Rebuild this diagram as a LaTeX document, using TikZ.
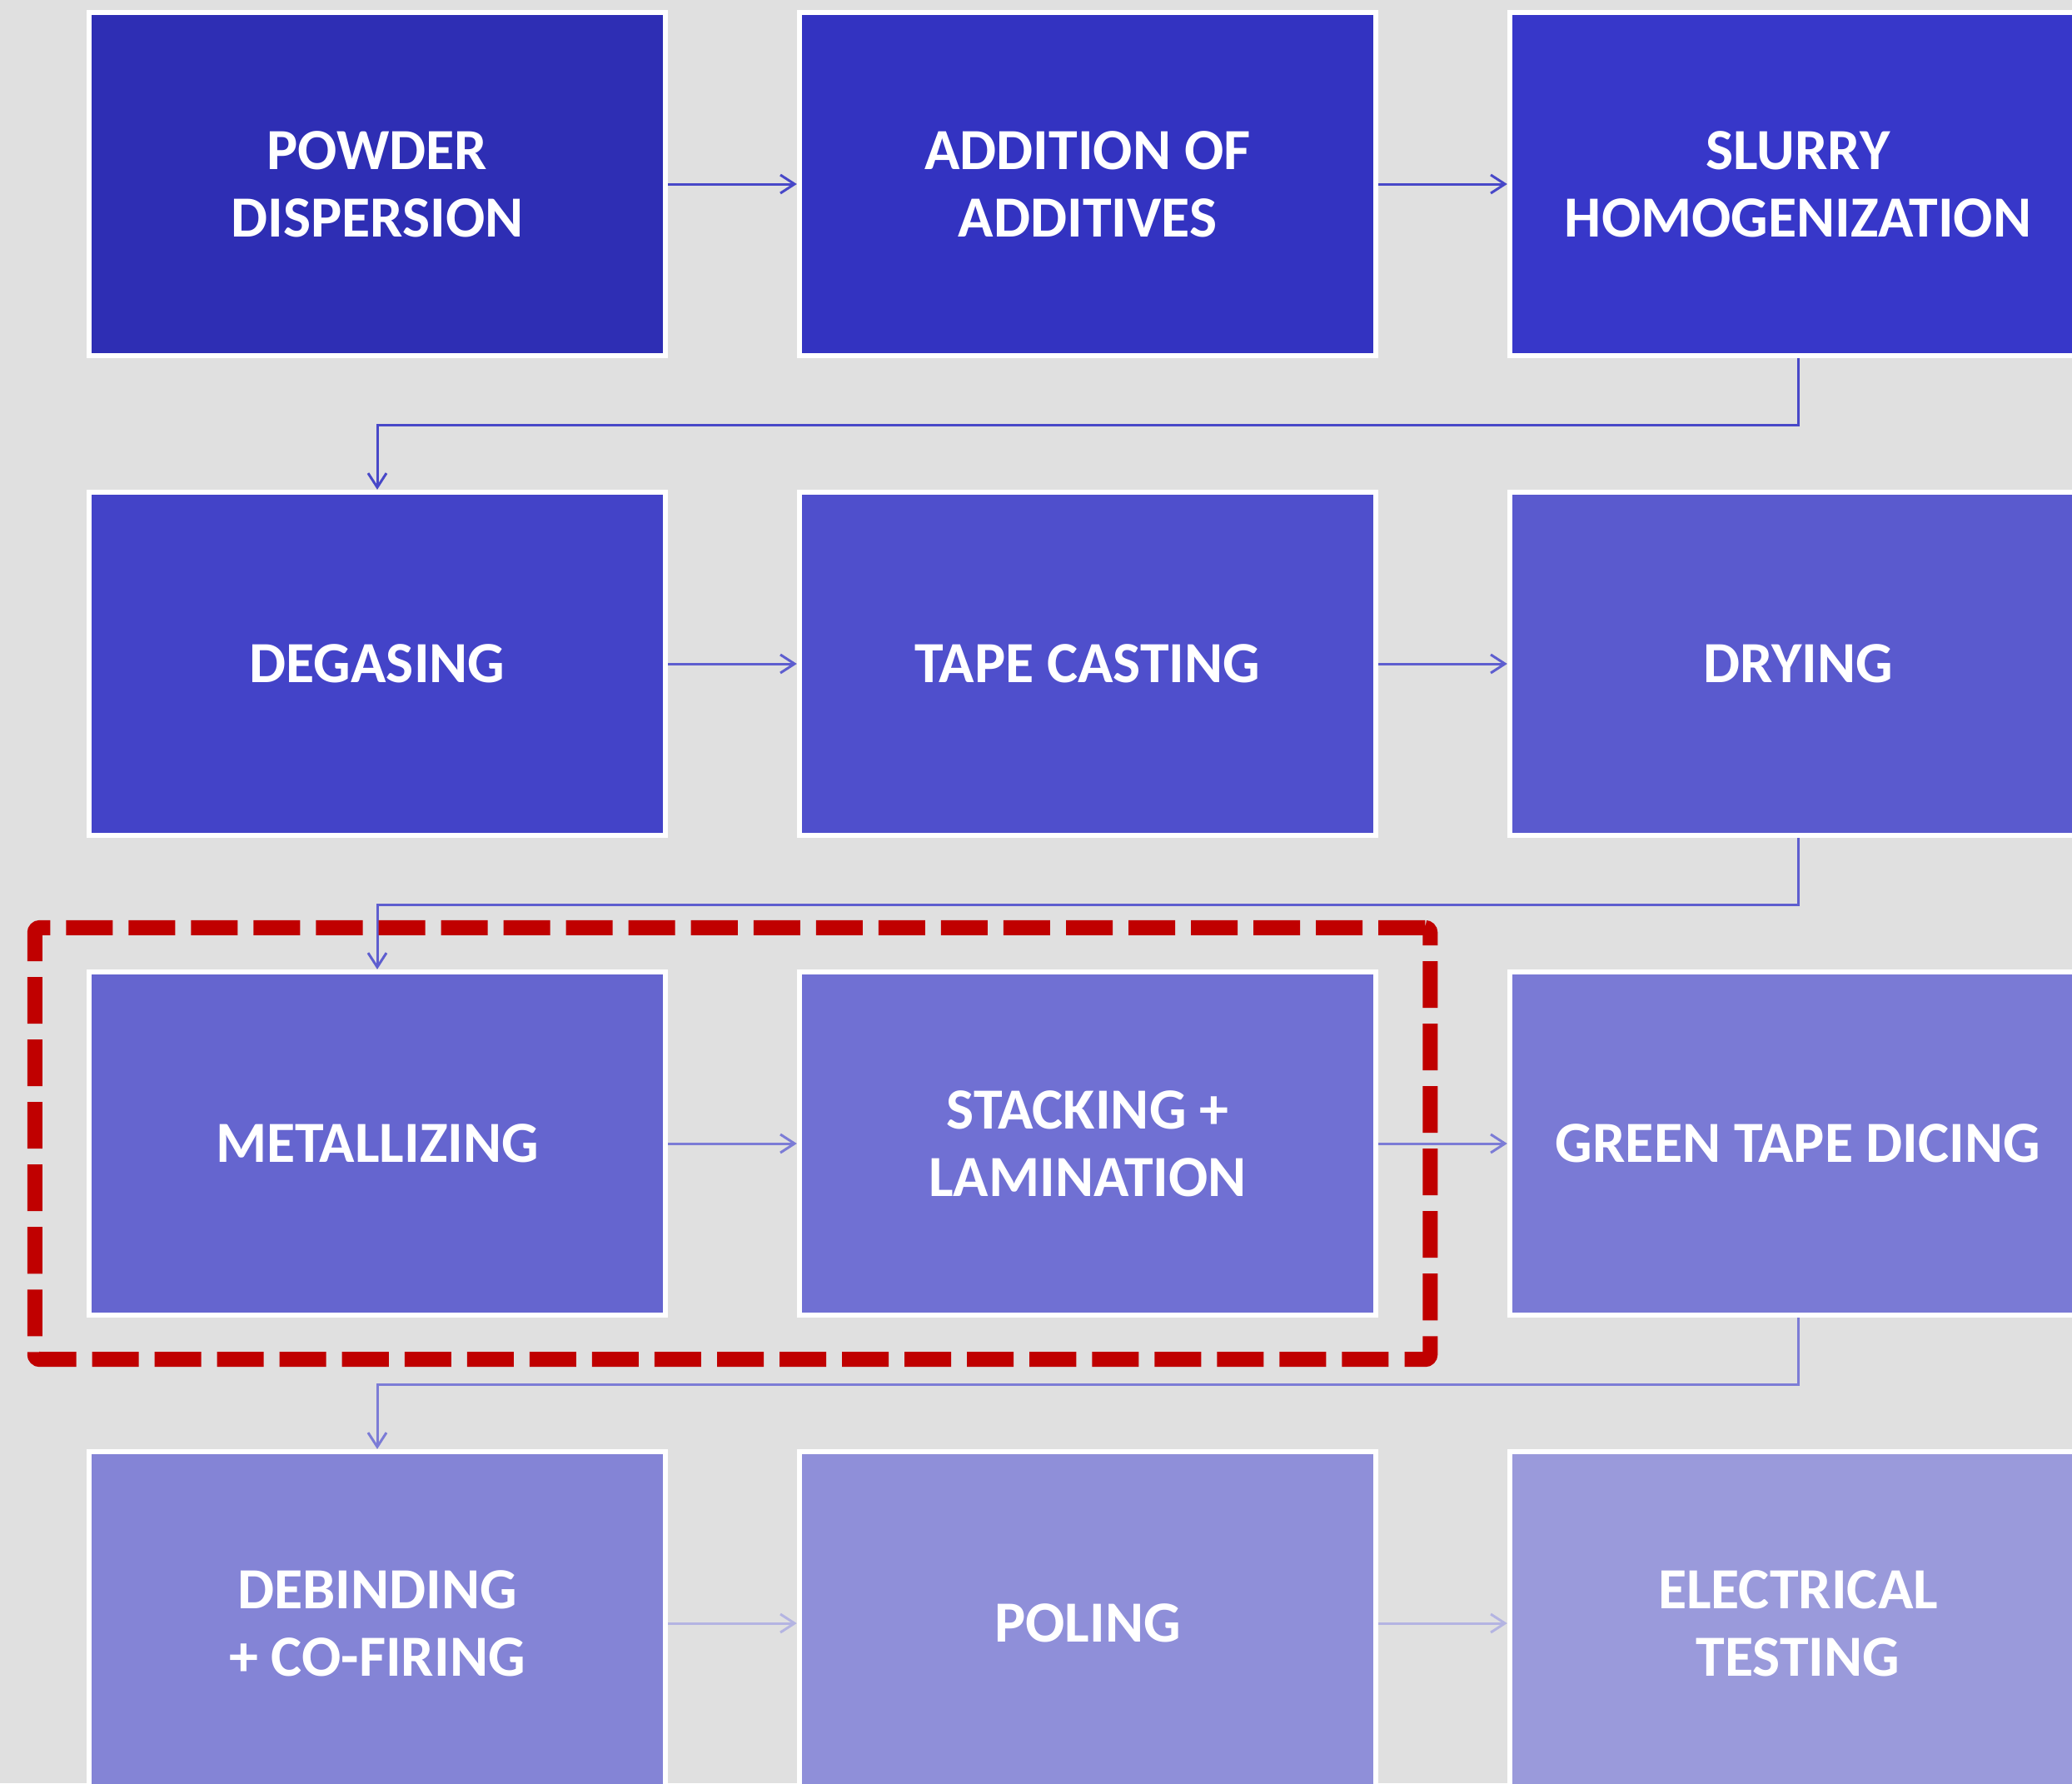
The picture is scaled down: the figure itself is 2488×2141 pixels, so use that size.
\documentclass[tikz,border=0pt]{standalone}
\usepackage{fontspec}
\setmainfont{Carlito}
\usetikzlibrary{arrows.meta,fit}

\definecolor{bg}{HTML}{E0E0E0}
\definecolor{dashred}{HTML}{C00000}
\definecolor{c1}{HTML}{2E2EB4}
\definecolor{c2}{HTML}{3333C1}
\definecolor{c3}{HTML}{3737C9}
\definecolor{c4}{HTML}{4343C8}
\definecolor{c5}{HTML}{4F4FCC}
\definecolor{c6}{HTML}{5A5ACE}
\definecolor{c7}{HTML}{6565CF}
\definecolor{c8}{HTML}{7070D3}
\definecolor{c9}{HTML}{7A7AD5}
\definecolor{c10}{HTML}{8484D6}
\definecolor{c11}{HTML}{8F8FD9}
\definecolor{c12}{HTML}{9A9ADB}
\definecolor{lineA}{HTML}{4848C8}
\definecolor{lineB}{HTML}{5E5ECF}
\definecolor{lineC}{HTML}{7C7CD6}
\definecolor{lineD}{HTML}{B4B4E2}

\begin{document}
\begin{tikzpicture}[x=0.01cm, y=-0.01cm,
    stage/.style={draw=white, line width=0.06cm, minimum width=6.92cm, minimum height=4.12cm,
        text=white, align=center, font=\bfseries\fontsize{19.9}{23}\selectfont},
    flow/.style={line width=0.03cm, -{Straight Barb[length=0.17cm, width=0.22cm]}},
    focus/.style={draw=dashred, line width=0.18cm, dash pattern=on 0.56cm off 0.19cm,
        rounded corners=0.06cm, inner xsep=0.62cm, inner ysep=0.5cm}]
    %background
    \useasboundingbox (0,0) rectangle (2488,2141);
    \clip (0,0) rectangle (2488,2141);
    \fill[bg] (0,0) rectangle (2488,2141);

    %stages
    \node[stage, fill=c1] (powder) at (453,221) {POWDER\\DISPERSION};
    \node[stage, fill=c2] (additives) at (1306,221) {ADDITION OF\\ADDITIVES};
    \node[stage, fill=c3] (slurry) at (2159,221) {SLURRY\\HOMOGENIZATION};
    \node[stage, fill=c4] (degas) at (453,797) {DEGASING};
    \node[stage, fill=c5] (casting) at (1306,797) {TAPE CASTING};
    \node[stage, fill=c6] (drying) at (2159,797) {DRYING};
    \node[stage, fill=c7] (metal) at (453,1373) {METALLIZING};
    \node[stage, fill=c8] (stack) at (1306,1373) {STACKING +\\LAMINATION};
    \node[stage, fill=c9] (dicing) at (2159,1373) {GREEN TAPE DICING};
    \node[stage, fill=c10] (firing) at (453,1949) {DEBINDING\\+ CO-FIRING};
    \node[stage, fill=c11] (poling) at (1306,1949) {POLING};
    \node[stage, fill=c12] (testing) at (2159,1949) {ELECTRICAL\\TESTING};

    %flow
    \draw[flow, lineA] (powder) -- (additives);
    \draw[flow, lineA] (additives) -- (slurry);
    \draw[flow, lineA] (slurry.south) -- ++(0,80) -| (degas.north);
    \draw[flow, lineB] (degas) -- (casting);
    \draw[flow, lineB] (casting) -- (drying);
    \draw[flow, lineB] (drying.south) -- ++(0,80) -| (metal.north);
    \draw[flow, lineC] (metal) -- (stack);
    \draw[flow, lineC] (stack) -- (dicing);
    \draw[flow, lineC] (dicing.south) -- ++(0,80) -| (firing.north);
    \draw[flow, lineD] (firing) -- (poling);
    \draw[flow, lineD] (poling) -- (testing);

    %highlight
    \node[focus, fit=(metal)(stack)] (highlight) {};
\end{tikzpicture}
\end{document}
